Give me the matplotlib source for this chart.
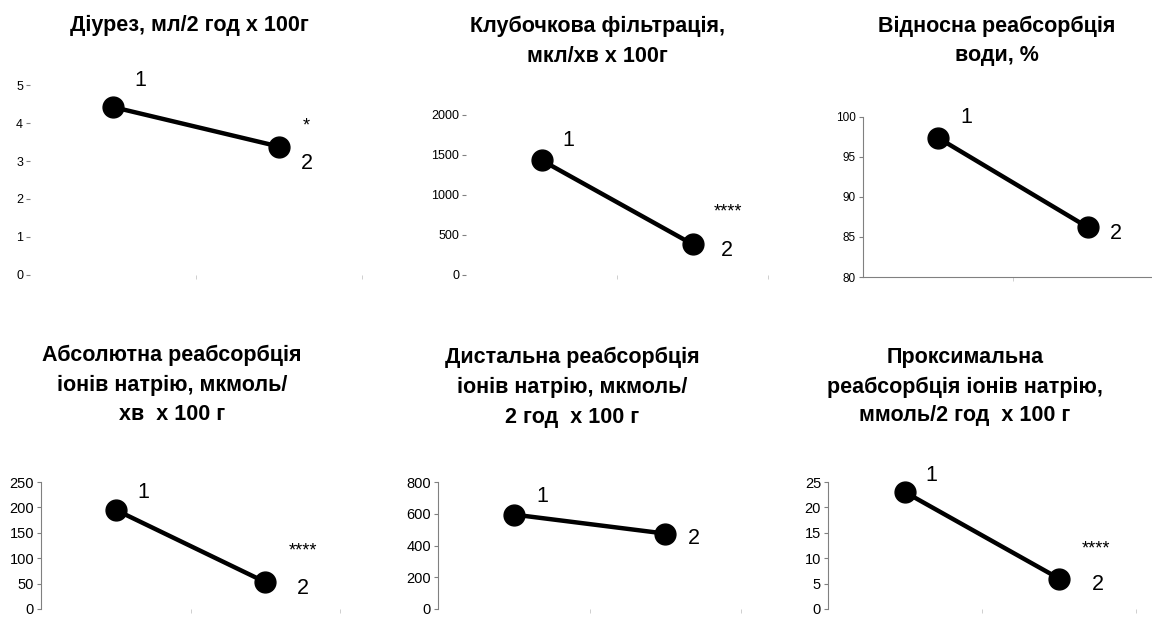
import matplotlib
matplotlib.use("Agg")
import matplotlib.pyplot as plt

plt.rcParams['font.family'] = ['Liberation Sans', 'DejaVu Sans']

# ---------------- data ----------------
groups = ["1", "2"]
titles = [
    ["Діурез, мл/2 год х 100г"],
    ["Клубочкова фільтрація,", "мкл/хв х 100г"],
    ["Відносна реабсорбція", "води, %"],
    ["Абсолютна реабсорбція", "іонів натрію, мкмоль/", "хв  х 100 г"],
    ["Дистальна реабсорбція", "іонів натрію, мкмоль/", "2 год  х 100 г"],
    ["Проксимальна", "реабсорбція іонів натрію,", "ммоль/2 год  х 100 г"],
]
diuresis = [4.42, 3.38]
glomerular_filtration = [1435, 385]
relative_water_reabsorption = [97.4, 86.2]
absolute_na_reabsorption = [195, 53]
distal_na_reabsorption = [595, 475]
proximal_na_reabsorption = [23, 6]
series = [diuresis, glomerular_filtration, relative_water_reabsorption,
          absolute_na_reabsorption, distal_na_reabsorption, proximal_na_reabsorption]
significance = ["*", "****", "", "****", "", "****"]
y_ticks = [
    [0, 1, 2, 3, 4, 5],
    [0, 500, 1000, 1500, 2000],
    [80, 85, 90, 95, 100],
    [0, 50, 100, 150, 200, 250],
    [0, 200, 400, 600, 800],
    [0, 5, 10, 15, 20, 25],
]

# ---------------- layout (pixels) ----------------
W, H = 1152, 617
# left, right, top (ymax), bottom (ymin)
rects = [
    (30, 362, 85, 275),
    (466, 768, 115, 275),
    (863, 1163, 117, 277),
    (41, 340, 482, 609),
    (438, 741, 482, 609),
    (828, 1136, 482, 609),
]
# title line centers (x, [y...])
title_pos = [
    (189, [25]),
    (597, [26, 57]),
    (997, [26, 56]),
    (172, [355, 385, 415]),
    (572, [357, 387, 417]),
    (965, [357, 387, 416]),
]
# label offsets in px (dx, dy down-positive): label1 from pt1, label2 from pt2, signif from pt2
offsets = [
    ((27, -27), (28, 17), (27, -21)),
    ((27, -20), (34, 6), (35, -32)),
    ((28, -20), (28, 6), (0, 0)),
    ((28, -17), (38, 6), (38, -31)),
    ((29, -18), (29, 5), (0, 0)),
    ((26, -17), (39, 6), (37, -30)),
]
tick_fs = [9, 9, 8.5, 10.5, 10.5, 10.5]

fig = plt.figure(figsize=(W / 100, H / 100), dpi=100)
gray = '#808080'

for i in range(6):
    l, r, t, b = rects[i]
    ax = fig.add_axes([l / W, 1 - b / H, (r - l) / W, (b - t) / H])
    vals = series[i]
    xs = [1, 2]
    ax.plot(xs, vals, color='black', lw=3.2, marker='o', markersize=15,
            solid_capstyle='round', clip_on=False, zorder=3)
    ax.set_xlim(0.5, 2.5)
    yt = y_ticks[i]
    ax.set_ylim(yt[0], yt[-1])
    ax.set_yticks(yt)
    ax.set_yticklabels([str(v) for v in yt], fontsize=tick_fs[i])
    ax.tick_params(axis='y', length=3, width=0.8, color=gray, pad=2)
    ax.set_xticks([1.5, 2.5])
    ax.set_xticklabels([])
    ax.tick_params(axis='x', length=3, width=0.6, color='#c8c8c8')
    for s in ax.spines.values():
        s.set_visible(False)
    if i == 2:
        ax.spines['left'].set_visible(True)
        ax.spines['bottom'].set_visible(True)
        ax.spines['left'].set_color(gray)
        ax.spines['bottom'].set_color(gray)
        ax.set_xticks([1.5])
    elif i >= 3:
        ax.spines['left'].set_visible(True)
        ax.spines['left'].set_color(gray)
    ax.patch.set_alpha(0)

    o1, o2, o3 = offsets[i]
    ax.annotate(groups[0], xy=(xs[0], vals[0]), xytext=(o1[0] * 0.72, -o1[1] * 0.72),
                textcoords='offset points', ha='center', va='center', fontsize=15.5,
                annotation_clip=False)
    ax.annotate(groups[1], xy=(xs[1], vals[1]), xytext=(o2[0] * 0.72, -o2[1] * 0.72),
                textcoords='offset points', ha='center', va='center', fontsize=15.5,
                annotation_clip=False)
    if significance[i]:
        ax.annotate(significance[i], xy=(xs[1], vals[1]), xytext=(o3[0] * 0.72, -o3[1] * 0.72),
                    textcoords='offset points', ha='center', va='center', fontsize=13,
                    annotation_clip=False)

    cx, ys = title_pos[i]
    for line, cy in zip(titles[i], ys):
        fig.text(cx / W, 1 - cy / H, line, ha='center', va='center',
                 fontsize=15.5, fontweight='bold')

fig.savefig('out.png', dpi=100, facecolor='white')
